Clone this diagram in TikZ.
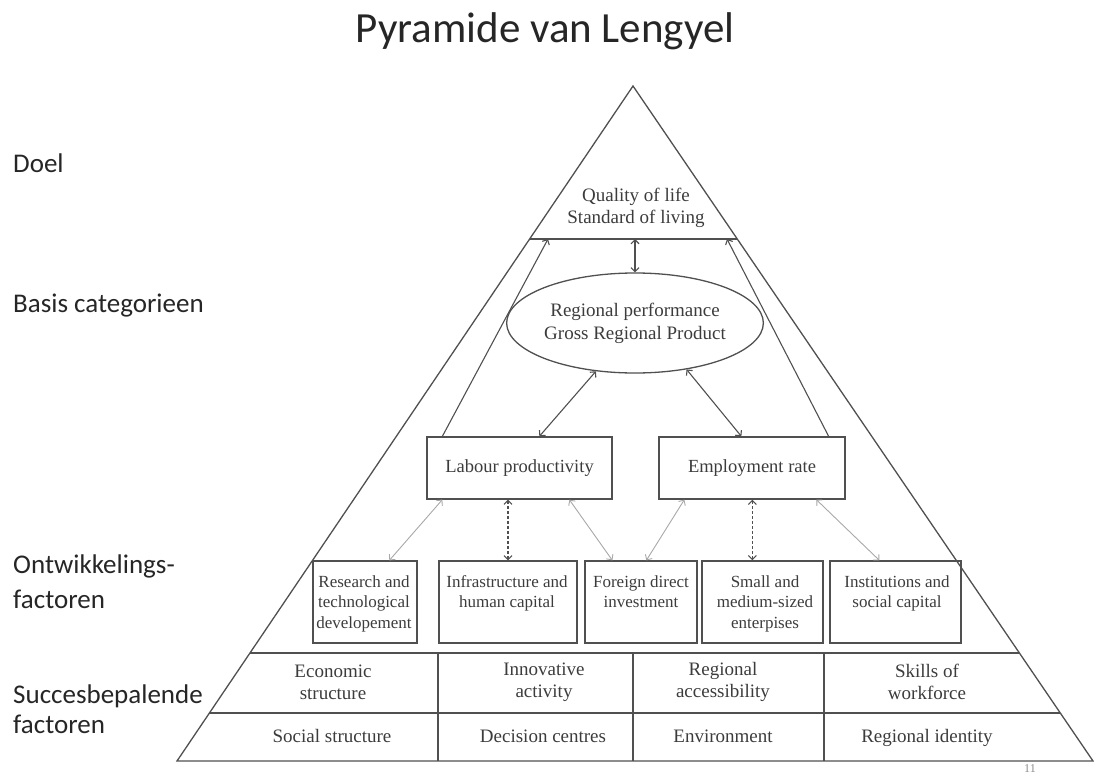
\documentclass[tikz,border=0pt]{standalone}
\usepackage{fontspec}
\setmainfont{Liberation Serif}
\newfontfamily\carlito{Carlito}
\usetikzlibrary{arrows.meta,calc,shapes.geometric}
\definecolor{ink}{HTML}{505050}
\definecolor{txt}{HTML}{3C3C3C}
\definecolor{lite}{HTML}{A8A8A8}
\begin{document}
\begin{tikzpicture}[x=1pt,y=-1pt,
  line/.style={draw=ink, line width=1.3pt},
  frame/.style={draw=ink, line width=1.3pt, inner sep=0pt},
  dtxt/.style={text=txt, align=center, inner sep=0pt, font=\fontsize{19}{22}\selectfont},
  stxt/.style={text=txt, align=center, inner sep=0pt, font=\fontsize{17}{20.5}\selectfont},
  side/.style={text=black!85, inner sep=0pt, anchor=base west, font=\carlito\fontsize{27}{32}\selectfont},
  arr/.style={draw=ink, line width=1.1pt},
  lightarr/.style={draw=lite, line width=0.9pt},
  dasharr/.style={draw=ink, line width=1.1pt, densely dashed},
  >={Straight Barb[length=4pt,width=8pt]}]
\useasboundingbox (0,0) rectangle (1094,773);

% title and side labels
\node[text=black!85, inner sep=0pt, anchor=base, font=\carlito\fontsize{43}{50}\selectfont] (title) at (545,43) {Pyramide van Lengyel};
\node[side] (doel) at (13,172) {Doel};
\node[side] (basis) at (13,312) {Basis categorieen};
\node[side] (ont1) at (13,573) {Ontwikkelings-};
\node[side] (ont2) at (13,608) {factoren};
\node[side] (suc1) at (13,703) {Succesbepalende};
\node[side] (suc2) at (13,733) {factoren};

% pyramid
\coordinate (A) at (633,86);
\coordinate (L) at (177,761);
\coordinate (R) at (1093,761);
\draw[line] (A) -- (L) -- (R) -- cycle;
\coordinate (tl) at ($(A)!0.2267!(L)$);
\coordinate (tr) at ($(A)!0.2267!(R)$);
\draw[line] (tl) -- (tr);
\coordinate (r1l) at ($(A)!0.84!(L)$);
\coordinate (r1r) at ($(A)!0.84!(R)$);
\coordinate (r2l) at ($(A)!0.9289!(L)$);
\coordinate (r2r) at ($(A)!0.9289!(R)$);
\draw[line] (r1l) -- (r1r);
\draw[line] (r2l) -- (r2r);
\draw[line] (438,653) -- (438,761);
\draw[line] (633,653) -- (633,761);
\draw[line] (824,653) -- (824,761);

% top
\node[dtxt] (qol) at (636,208) {Quality of life\\Standard of living};

% ellipse
\node[draw=ink, line width=1.3pt, ellipse, minimum width=250pt, minimum height=100pt, inner sep=0pt, text=txt, align=center, font=\fontsize{19}{23}\selectfont] (ell) at (635,323) {Regional performance\\Gross Regional Product};

% level 2 boxes
\node[frame, minimum width=185pt, minimum height=62pt, text=txt, font=\fontsize{18.5}{22}\selectfont] (lab) at (519.5,468) {Labour productivity};
\node[frame, minimum width=186pt, minimum height=62pt, text=txt, font=\fontsize{18.5}{22}\selectfont] (emp) at (752,468) {Employment rate};

% level 3 boxes
\node[frame, minimum width=104pt, minimum height=82pt] (b1) at (365,602) {};
\node[frame, minimum width=138pt, minimum height=82pt] (b2) at (508,602) {};
\node[frame, minimum width=112pt, minimum height=82pt] (b3) at (641,602) {};
\node[frame, minimum width=121pt, minimum height=82pt] (b4) at (762.5,602) {};
\node[frame, minimum width=131pt, minimum height=82pt] (b5) at (895.5,602) {};
\node[stxt, anchor=north] (t1) at (364,575) {Research and\\technological\\developement};
\node[stxt, anchor=north] (t2) at (507,575) {Infrastructure and\\human capital};
\node[stxt, anchor=north] (t3) at (641,575) {Foreign direct\\investment};
\node[stxt, anchor=north] (t4) at (765,575) {Small and\\medium-sized\\enterpises};
\node[stxt, anchor=north] (t5) at (897,575) {Institutions and\\social capital};

% bottom rows
\node[dtxt] (c11) at (333,682) {Economic\\structure};
\node[dtxt] (c12) at (544,682) {Innovative\\activity};
\node[dtxt] (c13) at (723,682) {Regional\\accessibility};
\node[dtxt] (c14) at (927,682) {Skills of\\workforce};
\node[dtxt, anchor=base] (c21) at (332,742) {Social structure};
\node[dtxt, anchor=base] (c22) at (543,742) {Decision centres};
\node[dtxt, anchor=base] (c23) at (723,742) {Environment};
\node[dtxt, anchor=base] (c24) at (927,742) {Regional identity};

% page number
\node[text=black!45, inner sep=0pt, anchor=north, font=\fontsize{12}{14}\selectfont] (pg) at (1030,764) {11};

% connectors upper
\coordinate (tm) at (635,239);
\coordinate (lt) at (548,239);
\coordinate (rt) at (727,239);
\draw[arr,<->] (ell.north) -- (tm);
\draw[arr,->] ($(lab.north west)+(16,0)$) -- (lt);
\draw[arr,->] ($(emp.north east)+(-17,0)$) -- (rt);
\draw[arr,<->] (ell.231) -- ($(lab.north west)+(113,0)$);
\draw[arr,<->] (ell.-42) -- ($(emp.north west)+(83,0)$);

% connectors lower
\draw[lightarr,<->] ($(lab.south west)+(16,0)$) -- ($(b1.north west)+(77,0)$);
\draw[dasharr,<->] (b2.north |- lab.south) -- (b2.north);
\draw[lightarr,<->] ($(lab.south west)+(143,0)$) -- ($(b3.north west)+(28,0)$);
\draw[lightarr,<->] ($(emp.south west)+(26,0)$) -- ($(b3.north west)+(62,0)$);
\draw[dasharr,<->] ($(emp.south west)+(94,0)$) -- ($(b4.north west)+(51,0)$);
\draw[lightarr,<->] ($(emp.south west)+(158,0)$) -- ($(b5.north west)+(50,0)$);
\end{tikzpicture}
\end{document}
